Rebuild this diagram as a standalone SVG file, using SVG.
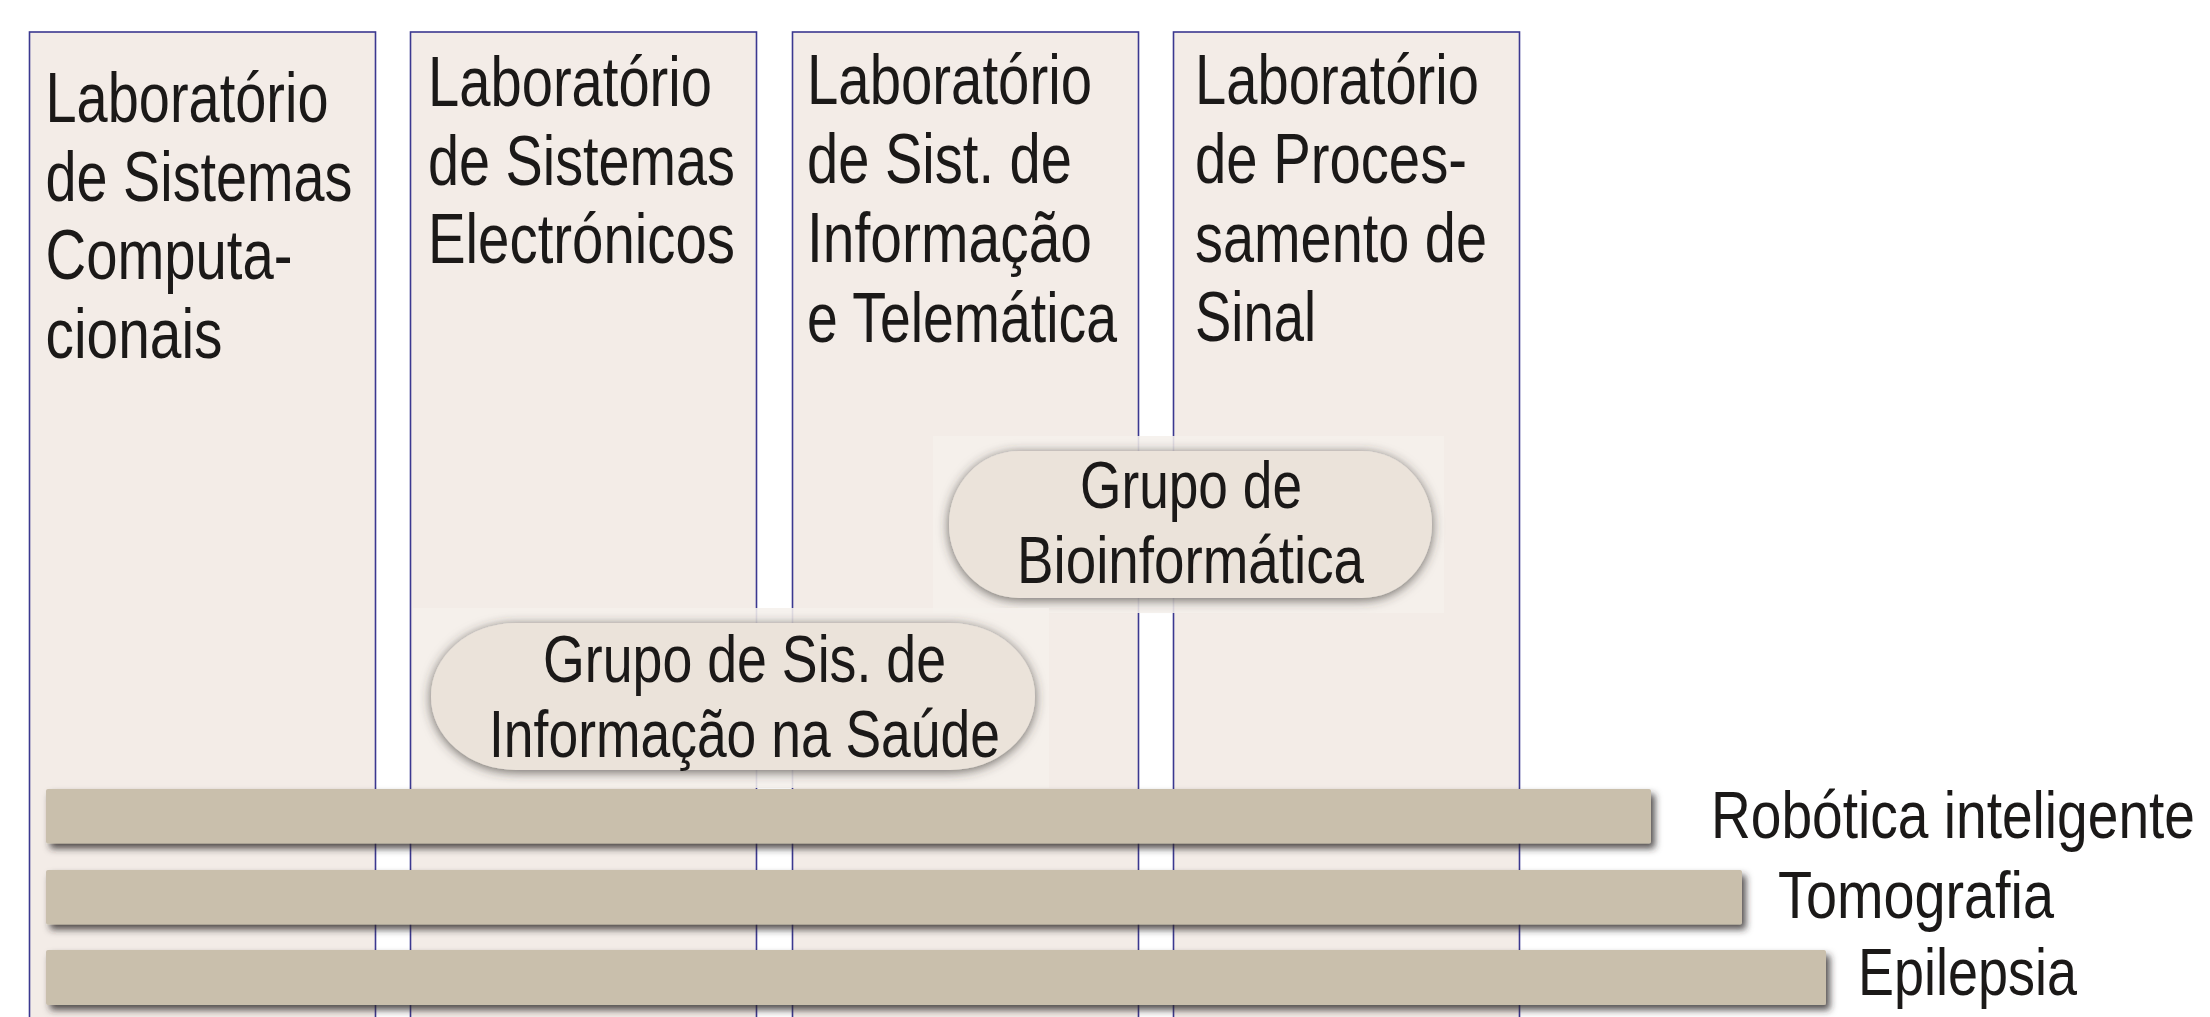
<svg xmlns="http://www.w3.org/2000/svg" width="2210" height="1017" viewBox="0 0 2210 1017">
<defs>
<style>
.col{fill:#f3ece7;stroke:#3b3890;stroke-width:1.6}
.t{font-family:"Liberation Sans",Arial,sans-serif;fill:#1b1918}
.ct{font-size:70px}
.pt{font-size:66px}
.lt{font-size:66px}
.pill{fill:#ebe3da}
.glow{fill:#f5f0ec;opacity:0.88}
.bar{fill:#c9bfac}
</style>
<filter id="psh" x="-10%" y="-20%" width="120%" height="140%">
<feDropShadow dx="0" dy="2" stdDeviation="6" flood-color="#3a3632" flood-opacity="0.75"/>
</filter>
<filter id="bsh" x="-5%" y="-30%" width="110%" height="170%">
<feDropShadow dx="4" dy="5" stdDeviation="3.5" flood-color="#2a2826" flood-opacity="0.8"/>
</filter>
</defs>
<rect width="2210" height="1017" fill="#ffffff"/>

<g id="lab-sistemas-computacionais">
<rect class="col" x="29.5" y="32" width="346" height="1010"/>
<text class="t ct" x="45.5" y="122" textLength="283" lengthAdjust="spacingAndGlyphs">Laboratório</text>
<text class="t ct" x="45.5" y="200.5" textLength="307" lengthAdjust="spacingAndGlyphs">de Sistemas</text>
<text class="t ct" x="45.5" y="279" textLength="247" lengthAdjust="spacingAndGlyphs">Computa-</text>
<text class="t ct" x="45.5" y="357.5" textLength="177" lengthAdjust="spacingAndGlyphs">cionais</text>
</g>

<g id="lab-sistemas-electronicos">
<rect class="col" x="410.5" y="32" width="346" height="1010"/>
<text class="t ct" x="428" y="106" textLength="284" lengthAdjust="spacingAndGlyphs">Laboratório</text>
<text class="t ct" x="428" y="184.5" textLength="307" lengthAdjust="spacingAndGlyphs">de Sistemas</text>
<text class="t ct" x="428" y="262.5" textLength="307" lengthAdjust="spacingAndGlyphs">Electrónicos</text>
</g>

<g id="lab-sist-informacao-telematica">
<rect class="col" x="792.5" y="32" width="346" height="1010"/>
<text class="t ct" x="807" y="104" textLength="285" lengthAdjust="spacingAndGlyphs">Laboratório</text>
<text class="t ct" x="807" y="183" textLength="265" lengthAdjust="spacingAndGlyphs">de Sist. de</text>
<text class="t ct" x="807" y="262" textLength="285" lengthAdjust="spacingAndGlyphs">Informação</text>
<text class="t ct" x="807" y="341.5" textLength="310" lengthAdjust="spacingAndGlyphs">e Telemática</text>
</g>

<g id="lab-processamento-sinal">
<rect class="col" x="1173.5" y="32" width="346" height="1010"/>
<text class="t ct" x="1195" y="104" textLength="284" lengthAdjust="spacingAndGlyphs">Laboratório</text>
<text class="t ct" x="1195" y="183" textLength="272" lengthAdjust="spacingAndGlyphs">de Proces-</text>
<text class="t ct" x="1195" y="262" textLength="292" lengthAdjust="spacingAndGlyphs">samento de</text>
<text class="t ct" x="1195" y="341" textLength="121" lengthAdjust="spacingAndGlyphs">Sinal</text>
</g>

<g id="grupo-bioinformatica">
<rect class="glow" x="933" y="436" width="511" height="177"/>
<rect class="pill" filter="url(#psh)" x="949" y="451" width="483" height="147" rx="70" ry="73"/>
<text class="t pt" x="1080" y="508" textLength="222" lengthAdjust="spacingAndGlyphs">Grupo de</text>
<text class="t pt" x="1017" y="583" textLength="347" lengthAdjust="spacingAndGlyphs">Bioinformática</text>
</g>

<g id="grupo-sis-informacao-saude">
<rect class="glow" x="413" y="608" width="636" height="180"/>
<rect class="pill" filter="url(#psh)" x="431" y="623" width="604" height="147" rx="85" ry="73"/>
<text class="t pt" x="543" y="682" textLength="403" lengthAdjust="spacingAndGlyphs">Grupo de Sis. de</text>
<text class="t pt" x="489" y="757" textLength="511" lengthAdjust="spacingAndGlyphs">Informação na Saúde</text>
</g>

<g id="robotica-inteligente">
<rect class="bar" filter="url(#bsh)" x="46" y="789" width="1605" height="54.5" rx="2"/>
<text class="t lt" x="1711" y="838" textLength="484" lengthAdjust="spacingAndGlyphs">Robótica inteligente</text>
</g>

<g id="tomografia">
<rect class="bar" filter="url(#bsh)" x="46" y="870" width="1696" height="54.5" rx="2"/>
<text class="t lt" x="1778" y="918" textLength="276" lengthAdjust="spacingAndGlyphs">Tomografia</text>
</g>

<g id="epilepsia">
<rect class="bar" filter="url(#bsh)" x="46" y="950" width="1780" height="55" rx="2"/>
<text class="t lt" x="1858" y="995" textLength="219" lengthAdjust="spacingAndGlyphs">Epilepsia</text>
</g>

<g id="connectors"></g>
</svg>
